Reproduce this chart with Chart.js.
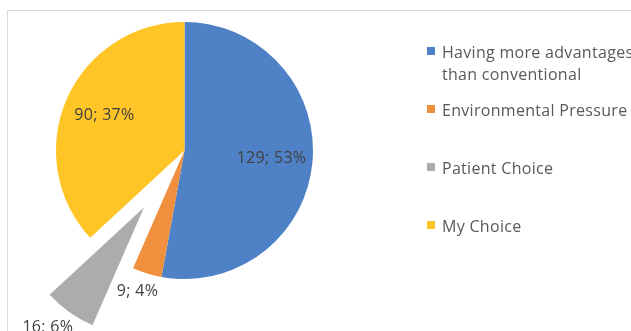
<!DOCTYPE html>
<html>
<head>
<meta charset="utf-8">
<script src="https://cdn.jsdelivr.net/npm/chart.js@4.4.1/dist/chart.umd.min.js"></script>
<style>
  body { margin: 0; background: #fff; }
  canvas { display: block; }
</style>
</head>
<body>
<canvas id="myChartPie" width="631" height="331"></canvas>
<script>
// chart data
var categories = [["Having more advantages", "than conventional"], "Environmental Pressure", "Patient Choice", "My Choice"];
var counts = [129, 9, 16, 90];
var percents = [53, 4, 6, 37];

// looks
var sliceColors = ['#4f81c6', '#f0903f', '#acacac', '#ffc526'];
var pulledOut = [0, 0, 70, 0];

// white background and the grey frame line (top + left, rest is cut off)
var frame = {
    id: 'frame',
    beforeDraw: function (chart) {
        var ctx = chart.ctx;
        ctx.save();
        ctx.fillStyle = '#fff';
        ctx.fillRect(0, 0, chart.width, chart.height);
        ctx.strokeStyle = '#d9d9d9';
        ctx.lineWidth = 1;
        ctx.beginPath();
        ctx.moveTo(7.5, chart.height);
        ctx.lineTo(7.5, 10.5);
        ctx.lineTo(chart.width, 10.5);
        ctx.stroke();
        ctx.restore();
    }
};

// pull slices out of the pie along their middle angle
var explode = {
    id: 'explode',
    afterDatasetsUpdate: function (chart) {
        chart.getDatasetMeta(0).data.forEach(function (arc, i) {
            var mid = (arc.startAngle + arc.endAngle) / 2;
            arc.x += Math.cos(mid) * pulledOut[i];
            arc.y += Math.sin(mid) * pulledOut[i];
        });
    }
};

// "value; pct%" labels, inside for big slices, outside for small ones
var sliceLabels = {
    id: 'sliceLabels',
    afterDatasetsDraw: function (chart) {
        var ctx = chart.ctx;
        var arcs = chart.getDatasetMeta(0).data;
        ctx.save();
        ctx.font = '16px "Open Sans"';
        ctx.letterSpacing = '0.3px';
        ctx.fillStyle = '#404040';
        ctx.textAlign = 'center';
        ctx.textBaseline = 'middle';
        arcs.forEach(function (arc, i) {
            var text = counts[i] + '; ' + percents[i] + '%';
            var mid = (arc.startAngle + arc.endAngle) / 2;
            var cos = Math.cos(mid), sin = Math.sin(mid);
            var share = (arc.endAngle - arc.startAngle) / (2 * Math.PI);
            var x, y;
            if (share > 0.1) {
                x = arc.x + cos * arc.outerRadius * 0.68;
                y = arc.y + sin * arc.outerRadius * 0.68;
            } else {
                var w = ctx.measureText(text).width;
                var r = arc.outerRadius + 12;
                x = arc.x + cos * r + cos * w / 2;
                y = arc.y + sin * r + sin * 7;
            }
            ctx.fillText(text, x, y);
        });
        ctx.restore();
    }
};

// legend on the right, one slot per category
var sideLegend = {
    id: 'sideLegend',
    afterDraw: function (chart) {
        var ctx = chart.ctx;
        var y = 58;
        ctx.save();
        ctx.font = '16px "Open Sans"';
        ctx.letterSpacing = '0.3px';
        ctx.textBaseline = 'alphabetic';
        chart.data.labels.forEach(function (label, i) {
            var lines = Array.isArray(label) ? label : [label];
            ctx.fillStyle = sliceColors[i];
            ctx.fillRect(427, y - 11, 8, 8);
            ctx.fillStyle = '#595959';
            lines.forEach(function (line, j) {
                ctx.fillText(line, 442, y + j * 22);
            });
            y += 58;
        });
        ctx.restore();
    }
};

var ctx = document.getElementById('myChartPie');
var pieChart = new Chart(ctx, {
    type: 'pie',
    data: {
        labels: categories,
        datasets: [{
            data: counts,
            backgroundColor: sliceColors,
            borderWidth: 0
        }]
    },
    options: {
        responsive: false,
        animation: false,
        events: [],
        layout: {
            padding: { left: 56, top: 22, right: 318, bottom: 52 }
        },
        plugins: {
            legend: { display: false },
            tooltip: { enabled: false }
        }
    },
    plugins: [frame, explode, sliceLabels, sideLegend]
});
</script>
</body>
</html>
